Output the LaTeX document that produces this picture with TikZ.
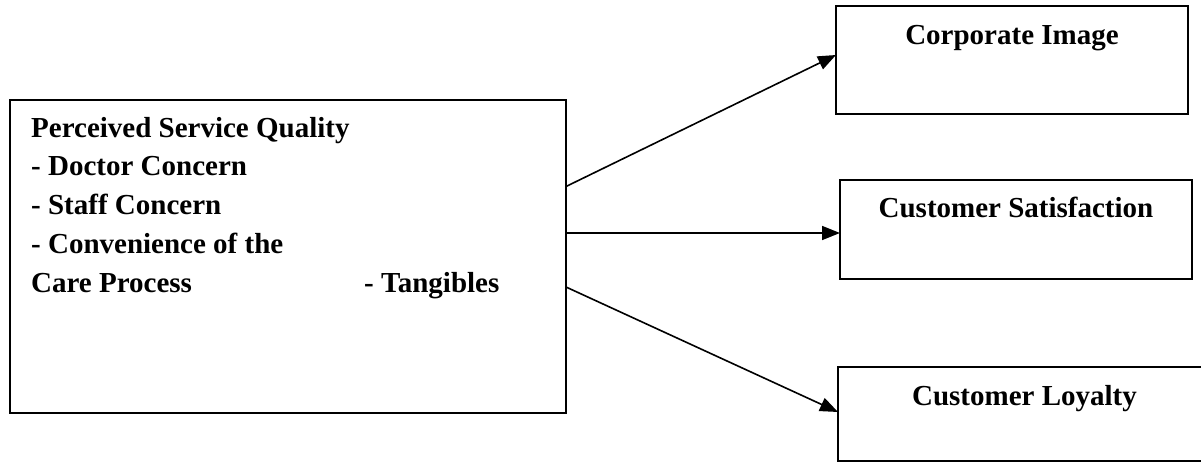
\documentclass[tikz,border=0pt]{standalone}
\usepackage{fontspec}
\setmainfont{Liberation Serif}
\usetikzlibrary{arrows.meta}
\begin{document}
\begin{tikzpicture}[x=1pt,y=-1pt,
  box/.style={draw, line width=2pt, rectangle, inner sep=0pt, outer sep=0pt},
  lbl/.style={font=\fontsize{29}{38.75}\selectfont\bfseries, inner sep=0pt},
  conn/.style={line width=1.6pt, -{Triangle[length=18pt,width=14pt]}}]
\useasboundingbox (0,0) rectangle (1201,462);
% boxes
\node[box, minimum width=556pt, minimum height=313pt] (L) at (288,256.5) {};
\node[box, minimum width=352pt, minimum height=108pt] (CI) at (1012,60) {};
\node[box, minimum width=352pt, minimum height=99pt] (CS) at (1016,229.5) {};
\node[box, minimum width=373pt, minimum height=94pt] (CL) at (1024.5,414) {};
% texts
\node[lbl, anchor=base west, align=left] (Ltxt) at (31,292)
  {Perceived Service Quality\\- Doctor Concern\\- Staff Concern\\- Convenience of the\\Care Process};
\node[lbl, anchor=base west] (Ltang) at (364,292) {- Tangibles};
\node[lbl, anchor=base] (CItxt) at (1012,45) {Corporate Image};
\node[lbl, anchor=base] (CStxt) at (1016,218) {Customer Satisfaction};
\node[lbl, anchor=base] (CLtxt) at (1024.5,405) {Customer Loyalty};
% connectors
\draw[conn] ([yshift=-86.5pt]L.north east) -- ([yshift=-49pt]CI.north west);
\draw[conn] ([yshift=-133pt]L.north east) -- ([yshift=-53pt]CS.north west);
\draw[conn] ([yshift=-187pt]L.north east) -- ([yshift=-45pt]CL.north west);
\end{tikzpicture}
\end{document}
